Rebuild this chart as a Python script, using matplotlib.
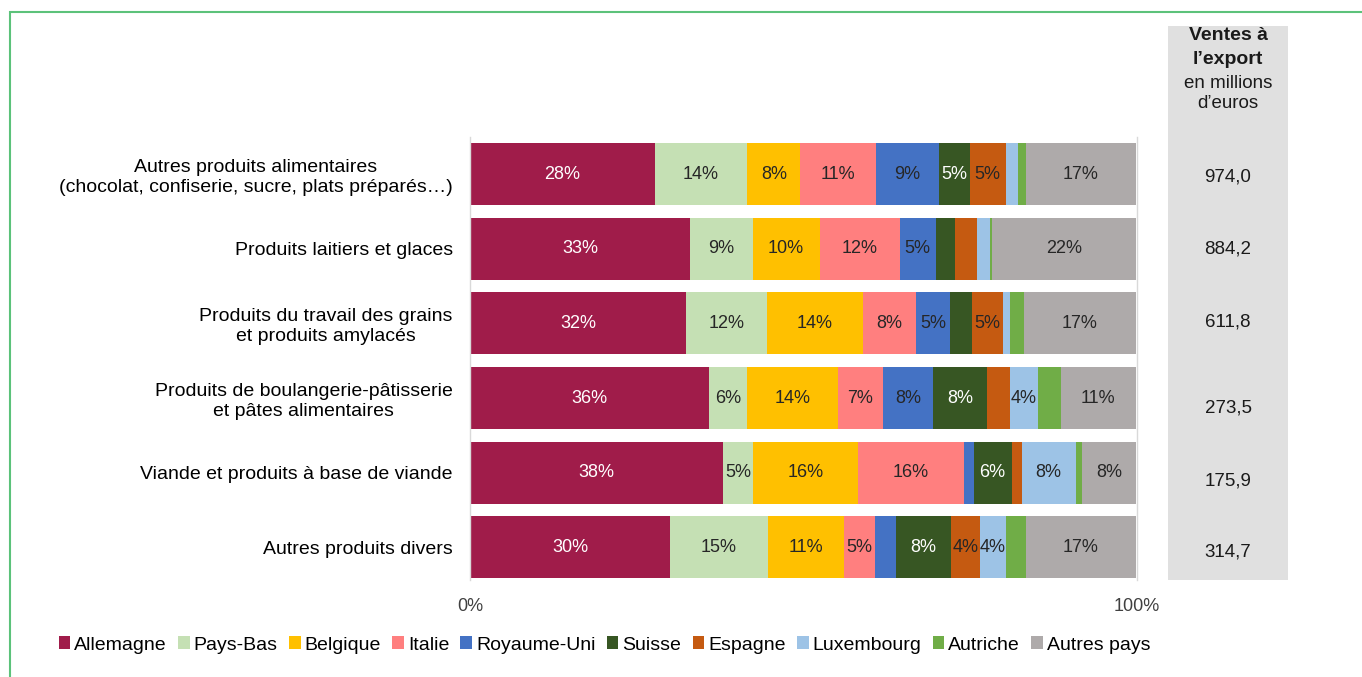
import matplotlib
matplotlib.use("Agg")
import matplotlib.pyplot as plt
from matplotlib.patches import Patch, Rectangle
from matplotlib.transforms import blended_transform_factory

plt.rcParams["font.family"] = ["Liberation Sans", "DejaVu Sans"]

# Données : répartition des ventes à l'export par pays (en %)
categories = [
    "Autres produits alimentaires\n(chocolat, confiserie, sucre, plats préparés…)",
    "Produits laitiers et glaces",
    "Produits du travail des grains\net produits amylacés",
    "Produits de boulangerie-pâtisserie\net pâtes alimentaires",
    "Viande et produits à base de viande",
    "Autres produits divers",
]
pays = ["Allemagne", "Pays-Bas", "Belgique", "Italie", "Royaume-Uni",
        "Suisse", "Espagne", "Luxembourg", "Autriche", "Autres pays"]

allemagne = [27.7, 33.0, 32.4, 35.8, 37.9, 30.0]
pays_bas = [13.9, 9.4, 12.1, 5.7, 4.6, 14.7]
belgique = [7.9, 10.0, 14.4, 13.6, 15.6, 11.4]
italie = [11.4, 12.0, 8.0, 6.8, 15.9, 4.6]
royaume_uni = [9.4, 5.4, 5.1, 7.5, 1.5, 3.1]
suisse = [4.6, 2.9, 3.2, 8.1, 5.7, 8.3]
espagne = [5.4, 3.3, 4.7, 3.4, 1.5, 4.3]
luxembourg = [1.8, 1.9, 1.1, 4.3, 8.1, 3.9]
autriche = [1.2, 0.3, 2.1, 3.4, 1.0, 3.0]
autres = [16.6, 21.7, 16.7, 11.2, 8.1, 16.6]

ventes = ["974,0", "884,2", "611,8", "273,5", "175,9", "314,7"]

series = [allemagne, pays_bas, belgique, italie, royaume_uni,
          suisse, espagne, luxembourg, autriche, autres]
couleurs = ["#A01C4A", "#C5E0B4", "#FFC000", "#FF7F7F", "#4472C4",
            "#375623", "#C55A11", "#9DC3E6", "#70AD47", "#AEAAAA"]
texte_blanc = {"Allemagne", "Suisse"}

fig = plt.figure(figsize=(13.62, 6.77), dpi=100)
ax = fig.add_axes([470 / 1362, 1 - 580 / 677, 667 / 1362, 443 / 677])

y = list(range(len(categories)))
gauche = [0.0] * len(categories)
for nom, valeurs, couleur in zip(pays, series, couleurs):
    ax.barh(y, valeurs, left=gauche, height=0.83, color=couleur, edgecolor="none")
    for i, v in enumerate(valeurs):
        if round(v) >= 4:
            ax.text(gauche[i] + v / 2, i, f"{round(v)}%", ha="center", va="center",
                    fontsize=13,
                    color="white" if nom in texte_blanc else "#262626")
    gauche = [g + v for g, v in zip(gauche, valeurs)]

ax.set_xlim(0, 100)
ax.set_ylim(5.44, -0.5)
ax.set_yticks(y, categories, fontsize=14, multialignment="center")
ax.set_xticks([0, 100], ["0%", "100%"], fontsize=13, color="#404040")
ax.tick_params(axis="both", length=0)
ax.tick_params(axis="x", pad=13)
ax.tick_params(axis="y", pad=12.5)
for cote in ["top", "bottom"]:
    ax.spines[cote].set_visible(False)
for cote in ["left", "right"]:
    ax.spines[cote].set_color("#D9D9D9")
    ax.spines[cote].set_linewidth(1)

# Colonne de droite : ventes à l'export
fig.patches.append(Rectangle((1168 / 1362, 1 - 580 / 677), 120 / 1362, 554 / 677,
                             transform=fig.transFigure, facecolor="#E0E0E0",
                             edgecolor="none", zorder=0))
xc = 1228 / 1362
fig.text(xc, 1 - 36 / 677, "Ventes à", ha="center", va="center",
         fontsize=14, fontweight="bold", color="#1a1a1a")
fig.text(xc, 1 - 60 / 677, "l’export", ha="center", va="center",
         fontsize=14, fontweight="bold", color="#1a1a1a")
fig.text(xc, 1 - 83 / 677, "en millions", ha="center", va="center",
         fontsize=13.5, color="#1a1a1a")
fig.text(xc, 1 - 104 / 677, "d’euros", ha="center", va="center",
         fontsize=13.5, color="#1a1a1a")

decalage = [0.03, 0.0, -0.02, 0.13, 0.11, 0.07]
trans = blended_transform_factory(fig.transFigure, ax.transData)
for i, (v, d) in enumerate(zip(ventes, decalage)):
    fig.text(xc, i + d, v, transform=trans, ha="center", va="center",
             fontsize=13.5, color="#1a1a1a")

# Légende
poignees = [Patch(facecolor=c, edgecolor="none", label=p) for p, c in zip(pays, couleurs)]
fig.legend(handles=poignees, loc="center left", bbox_to_anchor=(51 / 1362, 1 - 645 / 677),
           ncol=10, frameon=False, fontsize=14, handlelength=0.6, handleheight=0.6,
           handletextpad=0.2, columnspacing=0.58, borderaxespad=0)

# Cadre vert
fig.patches.append(Rectangle((9.5 / 1362, -0.01), 1.1, 1 - 12 / 677 + 0.01,
                             transform=fig.transFigure, facecolor="none",
                             edgecolor="#5CC27A", linewidth=1.5))

fig.savefig("out.png", dpi=100)
